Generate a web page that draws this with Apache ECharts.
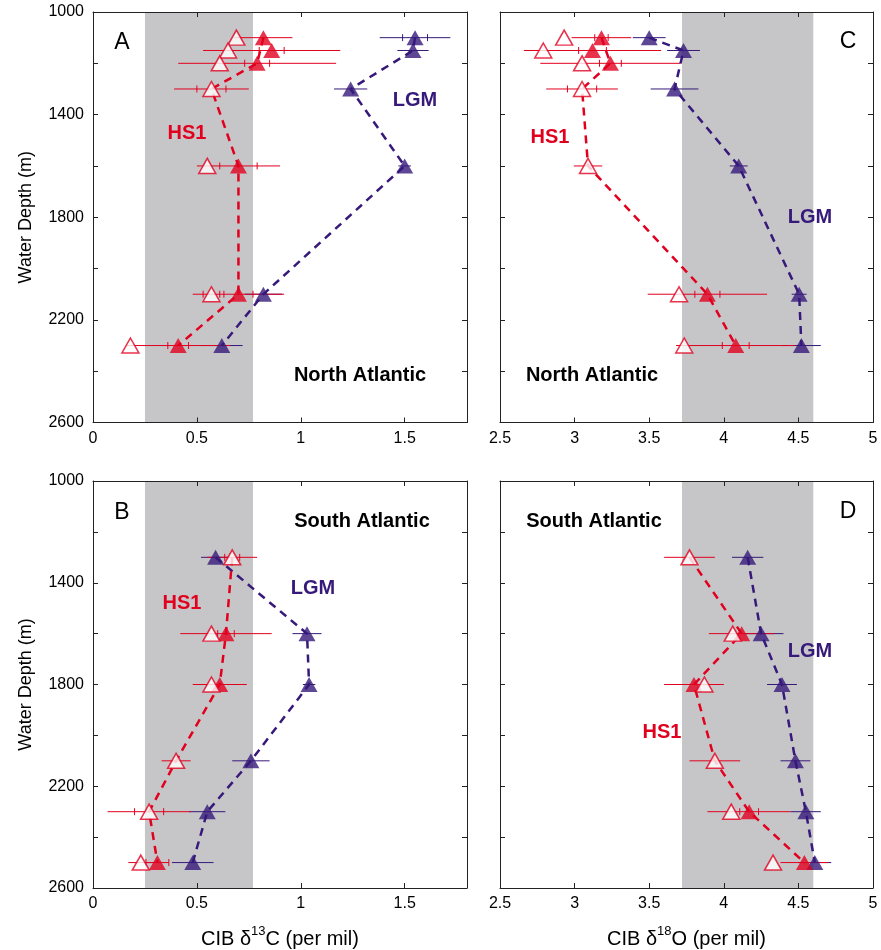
<!DOCTYPE html>
<html><head><meta charset="utf-8">
<script src="https://cdn.jsdelivr.net/npm/echarts@6/dist/echarts.min.js"></script>
<style>html,body{margin:0;padding:0;background:#fff}#c{width:881px;height:950px}</style>
</head><body><div id="c"></div>
<script>
// ---------- Data ----------
const depthRange = [1000, 2600];
const depthTicks = [1000, 1400, 1800, 2200, 2600];
const bandC13 = [0.25, 0.77];
const bandO18 = [3.72, 4.60];

// Panel A: North Atlantic d13C
const depthA_lgm = [1100, 1150, 1300, 1600, 2100, 2300];
const lgmA = [1.55, 1.54, 1.24, 1.50, 0.82, 0.62];
const lgmA_err = [0.17, 0.075, 0.08, 0.03, 0.09, 0.10];
const lgmA_cap = [0.06, 0, 0, 0, 0, 0];
const depthA_hs1f = [1100, 1150, 1200, 1600, 2100, 2300];
const hs1fA = [0.82, 0.86, 0.79, 0.70, 0.70, 0.41];
const hs1fA_err = [0.14, 0.33, 0.38, 0.20, 0.22, 0.25];
const hs1fA_cap = [0, 0.06, 0.06, 0.09, 0.07, 0.05];
const depthA_hs1o = [1100, 1150, 1200, 1300, 1600, 2100, 2300];
const hs1oA = [0.69, 0.65, 0.61, 0.57, 0.55, 0.57, 0.18];
const hs1oA_err = [0, 0, 0, 0.18, 0, 0, 0];
const hs1oA_cap = [0, 0, 0, 0.07, 0, 0.04, 0];
const depthA_hs1Line = [1100, 1200, 1300, 1600, 2100, 2300];
const hs1LineA = [0.82, 0.79, 0.57, 0.70, 0.70, 0.41];

// Panel B: South Atlantic d13C
const depthB_lgm = [1300, 1600, 1800, 2100, 2300, 2500];
const lgmB = [0.59, 1.03, 1.04, 0.76, 0.55, 0.48];
const lgmB_err = [0.07, 0.07, 0.03, 0.09, 0.087, 0.10];
const lgmB_cap = [0, 0, 0, 0, 0, 0];
const depthB_hs1f = [1600, 1800, 2500];
const hs1fB = [0.64, 0.61, 0.31];
const hs1fB_err = [0.22, 0.13, 0.055];
const hs1fB_cap = [0.04, 0, 0.055];
const depthB_hs1o = [1300, 1600, 1800, 2100, 2300, 2500];
const hs1oB = [0.67, 0.57, 0.57, 0.40, 0.27, 0.23];
const hs1oB_err = [0.12, 0, 0, 0.07, 0.20, 0.06];
const hs1oB_cap = [0.036, 0, 0, 0, 0.07, 0];
const depthB_hs1Line = [1300, 1600, 1800, 2100, 2300, 2500];
const hs1LineB = [0.67, 0.64, 0.61, 0.40, 0.27, 0.31];

// Panel C: North Atlantic d18O
const depthC_lgm = [1100, 1150, 1300, 1600, 2100, 2300];
const lgmC = [3.50, 3.73, 3.67, 4.10, 4.505, 4.52];
const lgmC_err = [0.11, 0.11, 0.16, 0.06, 0.05, 0.13];
const lgmC_cap = [0, 0, 0, 0, 0, 0];
const depthC_hs1f = [1100, 1150, 1200, 2100, 2300];
const hs1fC = [3.18, 3.12, 3.24, 3.89, 4.08];
const hs1fC_err = [0.20, 0.46, 0.47, 0.40, 0.40];
const hs1fC_cap = [0.045, 0.093, 0.073, 0.084, 0.09];
const depthC_hs1o = [1100, 1150, 1200, 1300, 1600, 2100, 2300];
const hs1oC = [2.93, 2.79, 3.05, 3.05, 3.09, 3.70, 3.735];
const hs1oC_err = [0, 0, 0, 0.24, 0.095, 0, 0];
const hs1oC_cap = [0, 0, 0, 0.098, 0, 0, 0];
const depthC_hs1Line = [1100, 1200, 1300, 1600, 2100, 2300];
const hs1LineC = [3.18, 3.24, 3.05, 3.09, 3.89, 4.08];

// Panel D: South Atlantic d18O
const depthD_lgm = [1300, 1600, 1800, 2100, 2300, 2500];
const lgmD = [4.16, 4.25, 4.39, 4.48, 4.55, 4.61];
const lgmD_err = [0.105, 0.15, 0.10, 0.10, 0.10, 0.11];
const lgmD_cap = [0, 0, 0, 0, 0, 0];
const depthD_hs1f = [1600, 1800, 2300, 2500];
const hs1fD = [4.12, 3.80, 4.17, 4.54];
const hs1fD_err = [0.22, 0.20, 0.28, 0.16];
const hs1fD_cap = [0, 0, 0.063, 0];
const depthD_hs1o = [1300, 1600, 1800, 2100, 2300, 2500];
const hs1oD = [3.77, 4.06, 3.87, 3.94, 4.05, 4.33];
const hs1oD_err = [0.17, 0, 0, 0.17, 0, 0];
const hs1oD_cap = [0, 0, 0, 0, 0, 0];
const depthD_hs1Line = [1300, 1600, 1800, 2100, 2300, 2500];
const hs1LineD = [3.77, 4.12, 3.80, 3.94, 4.17, 4.54];

// ---------- Styling ----------
const RED = '#e2001f', PURPLE = '#36197a', BAND = '#c6c6c8';
const FONT = 'Liberation Sans, Arial, Helvetica, sans-serif';

const pts = (v, d) => v.map((x, i) => [x, d[i]]);
const errs = (v, d, e, c) => v.map((x, i) => [x, d[i], e[i], c[i]]);

const grids = [
  {left: 93, top: 12, width: 374, height: 410.5},   // A
  {left: 93, top: 481, width: 374, height: 410},    // B
  {left: 500, top: 12, width: 373, height: 410.5},  // C
  {left: 500, top: 481, width: 373, height: 410}    // D
];
const xCfg = [
  {min: 0, max: 1.8, interval: 0.5},
  {min: 0, max: 1.8, interval: 0.5},
  {min: 2.5, max: 5, interval: 0.5},
  {min: 2.5, max: 5, interval: 0.5}
];

const xAxes = [], yAxes = [];
const lineCol = '#222';
grids.forEach((g, i) => {
  const xc = xCfg[i];
  const xName = i === 1 ? '{a|CIB δ}{s|13}{a|C (per mil)}' : (i === 3 ? '{a|CIB δ}{s|18}{a|O (per mil)}' : '');
  xAxes.push({
    type: 'value', gridIndex: i, position: 'bottom', min: xc.min, max: xc.max, interval: xc.interval,
    axisLine: {show: true, onZero: false, lineStyle: {color: lineCol, width: 1}},
    axisTick: {show: true, inside: true, length: 5, lineStyle: {color: lineCol}},
    splitLine: {show: false},
    axisLabel: {show: true, margin: 8, fontSize: 16, color: '#000', fontFamily: FONT,
      formatter: v => (i < 2 && v > 1.75) ? '' : String(v)},
    name: xName, nameLocation: 'middle', nameGap: 37,
    nameTextStyle: {rich: {
      a: {fontSize: 20, fontFamily: FONT, color: '#000', lineHeight: 24, verticalAlign: 'bottom'},
      s: {fontSize: 13, fontFamily: FONT, color: '#000', lineHeight: 24, verticalAlign: 'top'}
    }}
  });
  xAxes.push({
    type: 'value', gridIndex: i, position: 'top', min: xc.min, max: xc.max, interval: xc.interval,
    axisLine: {show: true, onZero: false, lineStyle: {color: lineCol, width: 1}},
    axisTick: {show: true, inside: true, length: 5, lineStyle: {color: lineCol}},
    splitLine: {show: false}, axisLabel: {show: false}
  });
  const isLeft = (i === 0 || i === 1);
  yAxes.push({
    type: 'value', gridIndex: i, position: 'left', inverse: true, min: depthRange[0], max: depthRange[1], interval: 200,
    axisLine: {show: true, onZero: false, lineStyle: {color: lineCol, width: 1}},
    axisTick: {show: true, inside: true, length: 5, lineStyle: {color: lineCol}},
    splitLine: {show: false},
    axisLabel: {show: isLeft, margin: 9, fontSize: 16, color: '#000', fontFamily: FONT,
      formatter: v => depthTicks.indexOf(v) >= 0 ? String(v) : ''},
    name: isLeft ? 'Water Depth (m)' : '', nameLocation: 'middle', nameGap: 58,
    nameTextStyle: {fontSize: 18, fontFamily: FONT, color: '#000'}
  });
  yAxes.push({
    type: 'value', gridIndex: i, position: 'right', inverse: true, min: depthRange[0], max: depthRange[1], interval: 200,
    axisLine: {show: true, onZero: false, lineStyle: {color: lineCol, width: 1}},
    axisTick: {show: true, inside: true, length: 5, lineStyle: {color: lineCol}},
    splitLine: {show: false}, axisLabel: {show: false}
  });
});

const panels = [
  {g: 0, band: bandC13,
    lgm: [lgmA, depthA_lgm, lgmA_err, lgmA_cap],
    hf: [hs1fA, depthA_hs1f, hs1fA_err, hs1fA_cap],
    ho: [hs1oA, depthA_hs1o, hs1oA_err, hs1oA_cap],
    hl: [hs1LineA, depthA_hs1Line]},
  {g: 1, band: bandC13,
    lgm: [lgmB, depthB_lgm, lgmB_err, lgmB_cap],
    hf: [hs1fB, depthB_hs1f, hs1fB_err, hs1fB_cap],
    ho: [hs1oB, depthB_hs1o, hs1oB_err, hs1oB_cap],
    hl: [hs1LineB, depthB_hs1Line]},
  {g: 2, band: bandO18,
    lgm: [lgmC, depthC_lgm, lgmC_err, lgmC_cap],
    hf: [hs1fC, depthC_hs1f, hs1fC_err, hs1fC_cap],
    ho: [hs1oC, depthC_hs1o, hs1oC_err, hs1oC_cap],
    hl: [hs1LineC, depthC_hs1Line]},
  {g: 3, band: bandO18,
    lgm: [lgmD, depthD_lgm, lgmD_err, lgmD_cap],
    hf: [hs1fD, depthD_hs1f, hs1fD_err, hs1fD_cap],
    ho: [hs1oD, depthD_hs1o, hs1oD_err, hs1oD_cap],
    hl: [hs1LineD, depthD_hs1Line]}
];

function errRender(color) {
  return function (params, api) {
    const x = api.value(0), y = api.value(1), e = api.value(2), c = api.value(3);
    const ch = [];
    const st = {stroke: color, lineWidth: 1};
    if (e > 0) {
      const p1 = api.coord([x - e, y]), p2 = api.coord([x + e, y]);
      ch.push({type: 'line', shape: {x1: p1[0], y1: p1[1], x2: p2[0], y2: p2[1]}, style: st});
    }
    if (c > 0) {
      [x - c, x + c].forEach(xx => {
        const p = api.coord([xx, y]);
        ch.push({type: 'line', shape: {x1: p[0], y1: p[1] - 3.5, x2: p[0], y2: p[1] + 3.5}, style: st});
      });
    }
    return {type: 'group', children: ch};
  };
}

const series = [];
panels.forEach(p => {
  const ax = {xAxisIndex: p.g * 2, yAxisIndex: p.g * 2};
  series.push(Object.assign({
    type: 'custom', z: 0, silent: true,
    data: [[p.band[0], p.band[1]]],
    renderItem: (params, api) => {
      const a = api.coord([api.value(0), depthRange[0]]);
      const b = api.coord([api.value(1), depthRange[1]]);
      return {type: 'rect', shape: {x: a[0], y: a[1], width: b[0] - a[0], height: b[1] - a[1]}, style: {fill: BAND}};
    }
  }, ax));
  series.push(Object.assign({type: 'custom', z: 1, data: errs(...p.lgm), renderItem: errRender(PURPLE)}, ax));
  series.push(Object.assign({type: 'custom', z: 1, data: errs(...p.hf), renderItem: errRender(RED)}, ax));
  series.push(Object.assign({type: 'custom', z: 1, data: errs(...p.ho), renderItem: errRender(RED)}, ax));
  series.push(Object.assign({type: 'line', z: 2, symbol: 'none', data: pts(p.lgm[0], p.lgm[1]),
    lineStyle: {color: PURPLE, width: 2.5, type: [8, 6]}}, ax));
  series.push(Object.assign({type: 'line', z: 2, symbol: 'none', data: pts(p.hl[0], p.hl[1]),
    lineStyle: {color: RED, width: 2.5, type: [8, 6]}}, ax));
  series.push(Object.assign({type: 'scatter', z: 3, symbol: 'triangle', symbolSize: [17, 15],
    data: pts(p.lgm[0], p.lgm[1]), itemStyle: {color: PURPLE}}, ax));
  series.push(Object.assign({type: 'scatter', z: 4, symbol: 'triangle', symbolSize: [17, 15],
    data: pts(p.hf[0], p.hf[1]), itemStyle: {color: RED}}, ax));
  series.push(Object.assign({type: 'scatter', z: 5, symbol: 'triangle', symbolSize: [17, 15],
    data: pts(p.ho[0], p.ho[1]), itemStyle: {color: '#fff', borderColor: RED, borderWidth: 1.5}}, ax));
});

function txt(t, x, y, size, color, bold) {
  return {type: 'text', x: x, y: y, z: 100, silent: true,
    style: {text: t, fontSize: size, fontFamily: FONT, fontWeight: bold ? 'bold' : 'normal', fill: color,
      align: 'center', verticalAlign: 'middle'}};
}
const graphic = [
  txt('A', 122, 43, 23, '#000', false),
  txt('LGM', 415, 100, 20, PURPLE, true),
  txt('HS1', 187, 133, 20, RED, true),
  txt('North Atlantic', 360, 375, 20, '#000', true),
  txt('B', 122, 513, 23, '#000', false),
  txt('South Atlantic', 362, 521, 20, '#000', true),
  txt('LGM', 313, 588, 20, PURPLE, true),
  txt('HS1', 182, 603, 20, RED, true),
  txt('C', 848, 42, 23, '#000', false),
  txt('HS1', 550, 137, 20, RED, true),
  txt('LGM', 810, 217, 20, PURPLE, true),
  txt('North Atlantic', 592, 375, 20, '#000', true),
  txt('D', 848, 512, 23, '#000', false),
  txt('South Atlantic', 594, 521, 20, '#000', true),
  txt('LGM', 810, 651, 20, PURPLE, true),
  txt('HS1', 662, 732, 20, RED, true)
];

const chart = echarts.init(document.getElementById('c'), null, {renderer: 'canvas'});
chart.setOption({
  animation: false,
  backgroundColor: '#fff',
  grid: grids,
  xAxis: xAxes,
  yAxis: yAxes,
  series: series,
  graphic: graphic
});
</script></body></html>
